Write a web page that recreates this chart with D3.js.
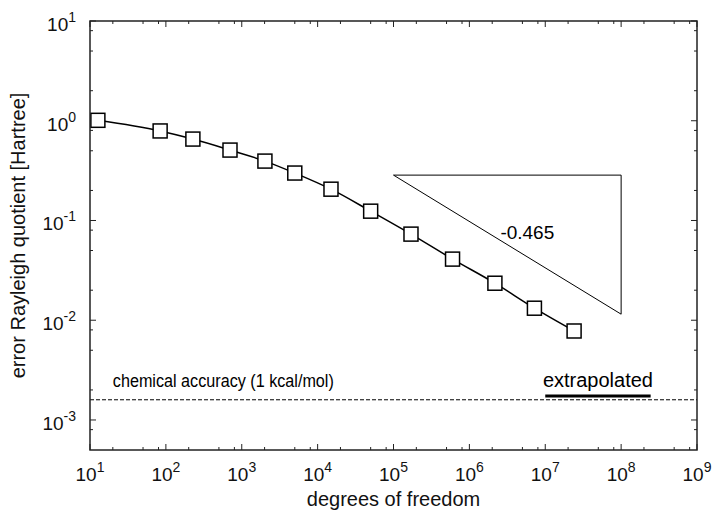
<!DOCTYPE html>
<html lang="en">
<head>
  <meta charset="UTF-8">
  <title>Rayleigh quotient error vs degrees of freedom</title>
  <script src="https://d3js.org/d3.v7.min.js"></script>
  <style>
    body {
      margin: 0;
      background: #fff;
    }
    svg {
      display: block;
      font-family: "Liberation Sans", Arial, sans-serif;
    }
    .frame { fill: none; stroke: #222; stroke-width: 1.5px; }
    .tick-line { stroke: #222; stroke-width: 1px; }
    .tick-label { font-size: 19px; fill: #111; }
    .axis-title { font-size: 20px; fill: #111; }
    .curve { fill: none; stroke: #000; stroke-width: 1.5px; }
    .marker { fill: #fff; stroke: #000; stroke-width: 1.5px; }
    .slope { fill: none; stroke: #000; stroke-width: 1px; }
    .chem { stroke: #000; stroke-width: 1px; stroke-dasharray: 4 2; }
    .extra { stroke: #000; stroke-width: 3px; }
  </style>
</head>
<body>
  <svg width="713" height="511"></svg>

  <script>
    // measured points (degrees of freedom, error in Hartree)
    const dofs = [12.7, 84, 227, 700, 2020, 5000, 15000, 50000, 170000, 600000, 2.17e6, 7.2e6, 2.4e7];
    const errors = [1.01, 0.79, 0.655, 0.508, 0.394, 0.299, 0.206, 0.124, 0.073, 0.041, 0.0235, 0.0132, 0.0078];

    // slope triangle corners
    const slopeX = [1e5, 1e8, 1e8];
    const slopeY = [0.285, 0.285, 0.0115];
    const slopeText = "-0.465";

    // chemical accuracy (1 kcal/mol in Hartree)
    const chemAccuracy = 1.594e-3;
    const chemLabel = "chemical accuracy (1 kcal/mol)";

    // extrapolated value
    const extrapX = [1e7, 2.45e8];
    const extrapY = 1.74e-3;

    const xTicks = [1, 2, 3, 4, 5, 6, 7, 8, 9];
    const yTicks = [-3, -2, -1, 0, 1];

    const svg = d3.select("svg");
    const mLeft = 90, mRight = 697, mTop = 21, mBottom = 450;

    const x = d3.scaleLog().domain([10, 1e9]).range([mLeft, mRight]);
    const y = d3.scaleLog().domain([5e-4, 10]).range([mBottom, mTop]);

    // minor ticks at 2, 5, 8 of each decade
    const minorX = [], minorY = [];
    for (let e = 1; e < 9; e++) [2, 5, 8].forEach(m => minorX.push(m * Math.pow(10, e)));
    for (let e = -4; e < 1; e++) [2, 5, 8].forEach(m => {
      const v = m * Math.pow(10, e);
      if (v > 5e-4 && v < 10) minorY.push(v);
    });

    const ticks = svg.append("g");
    const addTicks = (vals, len) => {
      vals.forEach(v => {
        const px = x(v);
        ticks.append("line").attr("class", "tick-line")
          .attr("x1", px).attr("x2", px).attr("y1", mBottom).attr("y2", mBottom - len);
        ticks.append("line").attr("class", "tick-line")
          .attr("x1", px).attr("x2", px).attr("y1", mTop).attr("y2", mTop + len);
      });
    };
    const addYTicks = (vals, len) => {
      vals.forEach(v => {
        const py = y(v);
        ticks.append("line").attr("class", "tick-line")
          .attr("x1", mLeft).attr("x2", mLeft + len).attr("y1", py).attr("y2", py);
        ticks.append("line").attr("class", "tick-line")
          .attr("x1", mRight).attr("x2", mRight - len).attr("y1", py).attr("y2", py);
      });
    };
    addTicks(xTicks.map(e => Math.pow(10, e)), 6);
    addTicks(minorX, 3);
    addYTicks(yTicks.map(e => Math.pow(10, e)), 6);
    addYTicks(minorY, 3);

    // tick labels as 10^n
    const powLabel = (g, e) => {
      g.append("tspan").text("10");
      g.append("tspan").attr("dy", -9).style("font-size", "14px").text(e);
    };

    xTicks.forEach(e => {
      const t = svg.append("text").attr("class", "tick-label")
        .attr("x", x(Math.pow(10, e))).attr("y", 481)
        .attr("text-anchor", "middle");
      powLabel(t, e);
    });

    yTicks.forEach(e => {
      const t = svg.append("text").attr("class", "tick-label")
        .attr("x", 76).attr("y", y(Math.pow(10, e)) + 10)
        .attr("text-anchor", "end");
      powLabel(t, e);
    });

    svg.append("text").attr("class", "axis-title")
      .attr("x", (mLeft + mRight) / 2).attr("y", 506)
      .attr("text-anchor", "middle")
      .text("degrees of freedom");

    svg.append("text").attr("class", "axis-title")
      .attr("transform", `translate(25,${(mTop + mBottom) / 2}) rotate(-90)`)
      .attr("text-anchor", "middle")
      .text("error Rayleigh quotient [Hartree]");

    // chemical accuracy line
    svg.append("line").attr("class", "chem")
      .attr("x1", mLeft).attr("x2", mRight)
      .attr("y1", y(chemAccuracy)).attr("y2", y(chemAccuracy));
    svg.append("text")
      .attr("x", x(20)).attr("y", y(chemAccuracy) - 13)
      .attr("textLength", 221)
      .attr("lengthAdjust", "spacingAndGlyphs")
      .style("font-size", "17.5px")
      .text(chemLabel);

    // extrapolated
    svg.append("line").attr("class", "extra")
      .attr("x1", x(extrapX[0])).attr("x2", x(extrapX[1]))
      .attr("y1", y(extrapY)).attr("y2", y(extrapY));
    svg.append("text")
      .attr("x", (x(extrapX[0]) + x(extrapX[1])) / 2).attr("y", y(extrapY) - 9)
      .attr("text-anchor", "middle")
      .style("font-size", "20px")
      .text("extrapolated");

    // slope triangle
    const tri = slopeX.map((v, i) => [x(v), y(slopeY[i])]);
    svg.append("path").attr("class", "slope")
      .attr("d", d3.line()(tri) + "Z");
    svg.append("text")
      .attr("x", (tri[0][0] + tri[2][0]) / 2 + 20)
      .attr("y", (tri[0][1] + tri[2][1]) / 2 - 6)
      .attr("text-anchor", "middle")
      .style("font-size", "19px")
      .text(slopeText);

    // data curve
    const pts = dofs.map((d, i) => ({ d: d, e: errors[i] }));
    svg.append("path").attr("class", "curve")
      .attr("d", d3.line().x(p => x(p.d)).y(p => y(p.e)).curve(d3.curveMonotoneX)(pts));

    svg.append("g").selectAll("rect")
      .data(pts)
      .enter().append("rect")
      .attr("class", "marker")
      .attr("x", p => x(p.d) - 7)
      .attr("y", p => y(p.e) - 7)
      .attr("width", 14)
      .attr("height", 14);

    svg.append("rect").attr("class", "frame")
      .attr("x", mLeft).attr("y", mTop)
      .attr("width", mRight - mLeft).attr("height", mBottom - mTop);
  </script>
</body>
</html>
